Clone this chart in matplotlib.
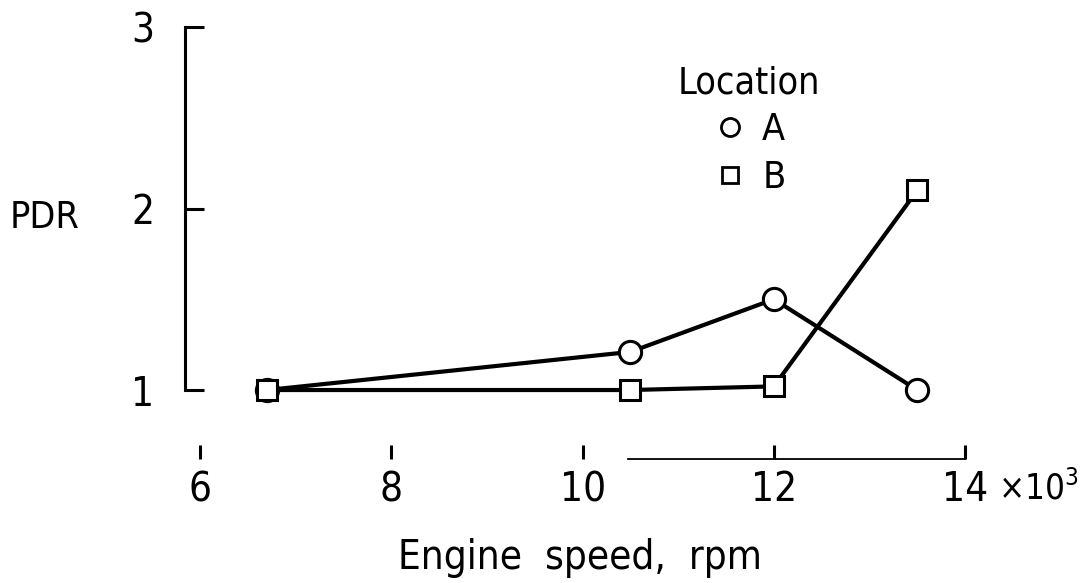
import matplotlib
matplotlib.use("Agg")
import matplotlib.pyplot as plt
from matplotlib.lines import Line2D

# data (engine speed in thousands of rpm)
speed_a = [6.7, 10.5, 12.0, 13.5]
pdr_a = [1.0, 1.21, 1.50, 1.0]
speed_b = [6.7, 10.5, 12.0, 13.5]
pdr_b = [1.0, 1.0, 1.02, 2.10]

xticks = [6, 8, 10, 12, 14]
xticklabels = ["6", "8", "10", "12", "14"]
yticks = [1, 2, 3]

plt.rcParams['font.family'] = ['DejaVu Sans']
plt.rcParams['font.stretch'] = 'condensed'
FS = 29

fig = plt.figure(figsize=(10.84, 5.83), dpi=100)
ax = fig.add_axes([0.1707, 0.2127, 0.7196, 0.741])

ax.plot(speed_a, pdr_a, color='black', lw=3, marker='o', ms=16,
        mfc='white', mec='black', mew=2.2, zorder=3)
ax.plot(speed_b, pdr_b, color='black', lw=3, marker='s', ms=14,
        mfc='white', mec='black', mew=2.2, zorder=3)

ax.set_xlim(5.843, 14)
ax.set_ylim(0.62, 3)

for s in ['top', 'right']:
    ax.spines[s].set_visible(False)
ax.spines['left'].set_bounds(1, 3)
ax.spines['left'].set_linewidth(2.2)
ax.spines['bottom'].set_bounds(10.48, 14)
ax.spines['bottom'].set_linewidth(1.3)

ax.set_xticks(xticks)
ax.set_xticklabels(xticklabels)
ax.set_yticks(yticks)
ax.tick_params(axis='y', direction='in', length=14, width=2.2, pad=22, labelsize=FS)
ax.tick_params(axis='x', direction='in', length=10, width=2.2, pad=8, labelsize=FS)

# multiplier printed after the last tick label
ax.annotate(r"$\times$10$^3$", xy=(14, 0), xycoords=('data', 'axes fraction'),
            xytext=(24, -29.5), textcoords='offset points', ha='left', va='baseline',
            fontsize=25)

ax.set_ylabel("PDR", rotation=0, fontsize=27, va='center', ha='center')
ax.yaxis.set_label_coords(-0.18, 0.558)
ax.set_xlabel("Engine  speed,  rpm", fontsize=FS, va='center', ha='center')
ax.xaxis.set_label_coords(0.506, -0.23)

handles = [
    Line2D([], [], ls='none', marker='o', ms=13, mfc='white', mec='black', mew=2),
    Line2D([], [], ls='none', marker='s', ms=12, mfc='white', mec='black', mew=2),
]
leg = ax.legend(handles, ["A", "B"], title="Location", frameon=False,
                loc='upper left', bbox_to_anchor=(0.607, 0.955), fontsize=27,
                title_fontsize=27, handlelength=1.0, handletextpad=0.35,
                labelspacing=0.3, borderpad=0)

fig.savefig("out.png", dpi=100)
